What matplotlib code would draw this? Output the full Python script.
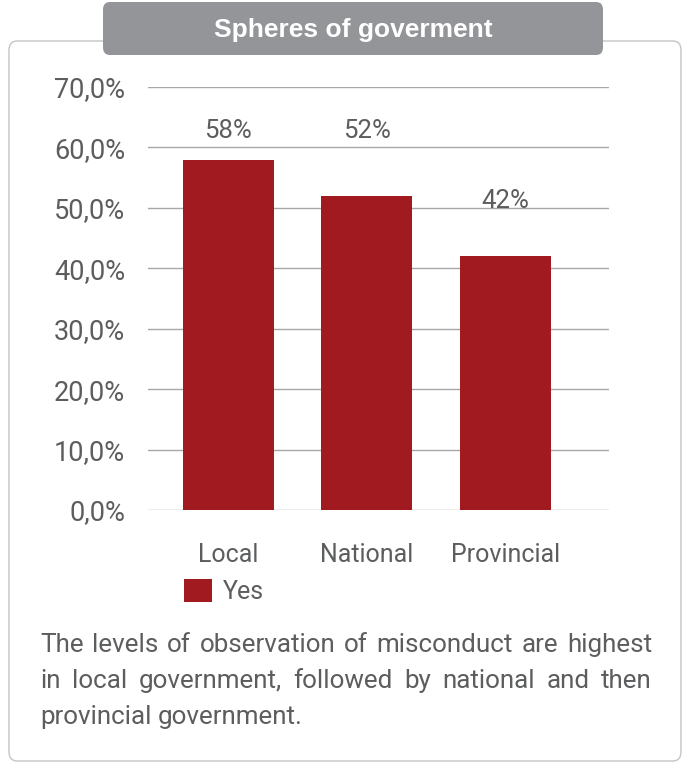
#Bar chart of observed misconduct by sphere of government
import matplotlib
matplotlib.use("Agg")
import matplotlib.pyplot as plt
from matplotlib.patches import FancyBboxPatch
from matplotlib.ticker import FuncFormatter

spheres = ["Local", "National", "Provincial"]
yes_pct = [58, 52, 42]
series_name = "Yes"
title = "Spheres of goverment"
note_lines = ["The levels of observation of misconduct are highest",
	"in local government, followed by national and then",
	"provincial government."]

W, H = 683, 765
grey = "#5c5d5f"
red = "#a01a20"
light = dict(family=["Roboto", "DejaVu Sans"], weight="normal")

fig = plt.figure(figsize=(W/100, H/100), dpi=100)

#outer frame and header tab (pixel coords -> figure coords)
def fx(px): return px / W
def fy(py): return 1 - py / H

frame = FancyBboxPatch((fx(9), fy(761)), fx(681) - fx(9), fy(41) - fy(761),
	boxstyle="round,pad=0,rounding_size=0.012", transform=fig.transFigure,
	facecolor="white", edgecolor="#c4c4c4", linewidth=1.0, zorder=-2)
fig.patches.append(frame)
tab = FancyBboxPatch((fx(103), fy(55)), fx(603) - fx(103), fy(2) - fy(55),
	boxstyle="round,pad=0,rounding_size=0.01", transform=fig.transFigure,
	facecolor="#939598", edgecolor="none", zorder=-1)
fig.patches.append(tab)
fig.text(fx(353), fy(30), title, color="white", fontsize=19, fontweight="bold",
	family=["Liberation Sans", "DejaVu Sans"], ha="center", va="center")

#plot area
ax = fig.add_axes([fx(148), fy(510), fx(609) - fx(148), fy(87) - fy(510)])
ax.patch.set_visible(False)
x = [0, 1, 2]
bars = ax.bar(x, yes_pct, width=0.657, color=red, label=series_name, zorder=3)
ax.set_xlim(-0.578, 2.75)
ax.set_ylim(0, 70)
ax.set_yticks(range(0, 71, 10))
ax.yaxis.set_major_formatter(FuncFormatter(lambda v, p: ("%.1f%%" % v).replace(".", ",")))
ax.yaxis.grid(True, color="#a8a8a8", linewidth=1.0, zorder=0)
for s in ax.spines.values():
	s.set_visible(False)
ax.tick_params(axis="y", length=0, pad=16.5, labelsize=19.5, labelcolor=grey)
ax.tick_params(axis="x", length=0, pad=23.5, labelsize=18, labelcolor=grey)
ax.set_xticks(x)
ax.set_xticklabels(spheres)
for lab in ax.get_xticklabels() + ax.get_yticklabels():
	lab.set_fontfamily(light["family"])
	lab.set_fontweight(light["weight"])

#value labels above bars
label_offsets = [4.7, 10.7, 9.2]
for xi, v, off in zip(x, yes_pct, label_offsets):
	ax.text(xi, v + off, "%d%%" % v, ha="center", va="center", fontsize=18.5,
		color=grey, zorder=4, **light)

leg = ax.legend(loc="upper left", bbox_to_anchor=(fx(184), fy(579)),
	bbox_transform=fig.transFigure, frameon=False, fontsize=18,
	handlelength=1.1, handleheight=1.05, handletextpad=0.45,
	borderpad=0, borderaxespad=0)
for t in leg.get_texts():
	t.set_color(grey)
	t.set_fontfamily(light["family"])
	t.set_fontweight(light["weight"])

#justified note text below the chart
fig.canvas.draw()
r = fig.canvas.get_renderer()
left_px, right_px = 40, 652
line_y = [645, 681, 717]
for i, line in enumerate(note_lines):
	words = line.split(" ")
	texts = [fig.text(0, fy(line_y[i]), w, fontsize=18.7, color=grey,
		ha="left", va="center", **light) for w in words]
	widths = [t.get_window_extent(r).width for t in texts]
	if i < len(note_lines) - 1:
		gap = (right_px - left_px - sum(widths)) / (len(words) - 1)
	else:
		gap = texts[0].get_window_extent(r).height * 0.25
	pos = left_px
	for t, w in zip(texts, widths):
		t.set_x(fx(pos))
		pos += w + gap

fig.savefig("out.png", dpi=100)
